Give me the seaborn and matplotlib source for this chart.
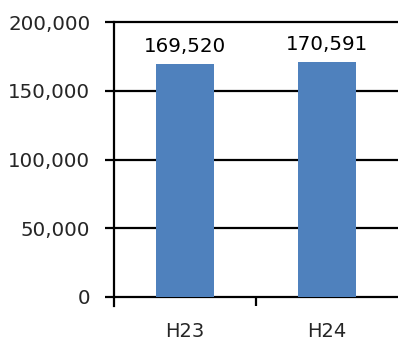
import matplotlib
matplotlib.use("Agg")
import matplotlib.pyplot as plt
import seaborn as sns
import pandas as pd
from matplotlib.ticker import FuncFormatter, FixedLocator

categories = ["H23", "H24"]
values = [169520, 170591]
y_ticks = [0, 50000, 100000, 150000, 200000]

sns.set_style("white")
plt.rcParams["font.family"] = ["DejaVu Sans"]

df = pd.DataFrame({"year": categories, "count": values})

fig = plt.figure(figsize=(3.98, 3.41), dpi=100)
ax = fig.add_axes([114 / 398, 1 - 297 / 341, 1 - 114 / 398, (297 - 22) / 341])

sns.barplot(data=df, x="year", y="count", color="#4F81BD", width=0.41,
            saturation=1, linewidth=0, ax=ax, zorder=3)

ax.set_xlim(-0.5, 1.5)
ax.set_ylim(0, 200000)
ax.set_yticks(y_ticks)
ax.yaxis.set_major_formatter(FuncFormatter(lambda v, p: f"{int(v):,}"))
for t in y_ticks:
    ax.axhline(t, color="black", lw=1.6, zorder=2, clip_on=False)

for s in ["top", "right", "bottom"]:
    ax.spines[s].set_visible(False)
ax.spines["left"].set_color("black")
ax.spines["left"].set_linewidth(1.6)
ax.spines["left"].set_bounds(-6500, 200000)

ax.set_xlabel("")
ax.set_ylabel("")
ax.tick_params(axis="y", length=6.5, width=1.6, color="black", labelsize=14.3,
               pad=10.5, left=True)
ax.tick_params(axis="x", length=0, labelsize=14, pad=18)
ax.xaxis.set_minor_locator(FixedLocator([0.5]))
ax.tick_params(axis="x", which="minor", length=6.5, width=1.6, color="black",
               bottom=True)

for i, v in enumerate(values):
    ax.annotate(f"{v:,}", (i, v), xytext=(0, 8.6), textcoords="offset points",
                ha="center", va="baseline", fontsize=14.3, color="black")

fig.savefig("out.png", dpi=100)
